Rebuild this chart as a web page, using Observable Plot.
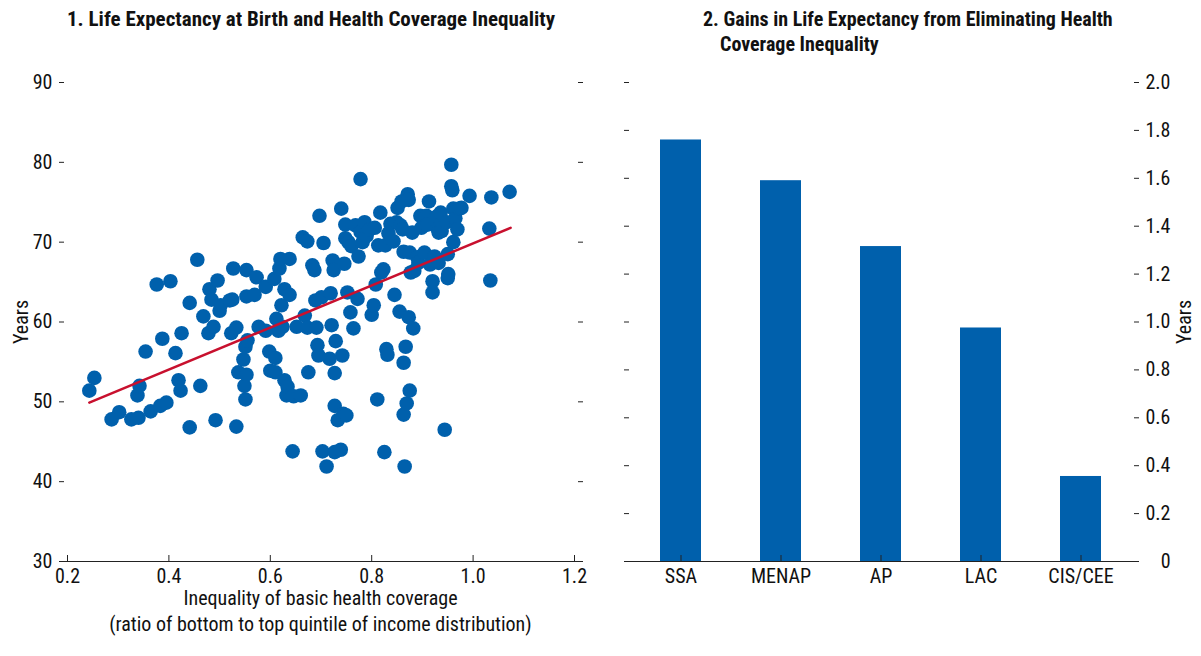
<!DOCTYPE html>
<html>
<head>
<meta charset="utf-8">
<script src="https://cdn.jsdelivr.net/npm/d3@7"></script>
<script src="https://cdn.jsdelivr.net/npm/@observablehq/plot@0.6"></script>
<style>
  html, body { margin: 0; padding: 0; background: #fff; }
  #wrap { position: relative; width: 1201px; height: 656px; overflow: hidden;
    font-family: "Liberation Sans Narrow", "Roboto Condensed", "DejaVu Sans Condensed", sans-serif; color: #111; }
  .title { position: absolute; font-weight: bold; line-height: 25px; white-space: nowrap; }
  .xlabel { position: absolute; font-size: 20px; line-height: 26px; text-align: center; white-space: nowrap; }
  .panel { position: absolute; top: 60px; }
</style>
</head>
<body>
<div id="wrap">
  <div class="title" style="left:67px; top:7px; font-size:21px;">1. Life Expectancy at Birth and Health Coverage Inequality</div>
  <div class="title" style="left:703px; top:7px; font-size:20px;">2. Gains in Life Expectancy from Eliminating Health<br><span style="padding-left:17px">Coverage Inequality</span></div>
  <div class="panel" id="left" style="left:0px;"></div>
  <div class="panel" id="right" style="left:600px;"></div>
  <div class="xlabel" style="left:67px; width:507px; top:585px;">Inequality of basic health coverage<br>(ratio of bottom to top quintile of income distribution)</div>
</div>
<script>
const FONT = '"Liberation Sans Narrow", "Roboto Condensed", "DejaVu Sans Condensed", sans-serif';

// Panel 1: scatter data (health coverage ratio, life expectancy in years)
const coverageRatio = [
  0.243,0.253,0.287,0.302,0.326,0.340,0.338,0.342,0.354,0.364,0.376,0.383,0.387,0.395,0.403,0.413,0.419,0.425,0.423,0.441,
  0.441,0.456,0.462,0.468,0.478,0.480,0.484,0.488,0.496,0.492,0.500,0.502,0.520,0.525,0.527,0.523,0.533,0.533,0.537,0.547,
  0.549,0.551,0.553,0.553,0.551,0.553,0.555,0.569,0.573,0.577,0.591,0.591,0.598,0.600,0.608,0.610,0.612,0.610,0.618,0.616,
  0.620,0.622,0.624,0.628,0.628,0.632,0.634,0.638,0.638,0.644,0.646,0.652,0.660,0.664,0.668,0.673,0.673,0.675,0.683,0.687,
  0.689,0.691,0.693,0.695,0.697,0.701,0.703,0.705,0.711,0.717,0.719,0.721,0.723,0.725,0.727,0.727,0.727,0.729,0.733,0.739,
  0.740,0.742,0.744,0.746,0.748,0.748,0.750,0.752,0.754,0.758,0.760,0.764,0.768,0.772,0.774,0.778,0.778,0.782,0.786,0.790,
  0.796,0.800,0.804,0.806,0.808,0.811,0.813,0.817,0.819,0.823,0.825,0.827,0.829,0.831,0.833,0.837,0.843,0.845,0.849,0.851,
  0.855,0.857,0.859,0.861,0.863,0.863,0.863,0.865,0.867,0.869,0.871,0.873,0.875,0.873,0.875,0.877,0.882,0.880,0.884,0.890,
  0.892,0.896,0.898,0.904,0.908,0.910,0.913,0.915,0.920,0.920,0.924,0.928,0.930,0.932,0.932,0.936,0.938,0.944,0.948,0.950,
  0.950,0.951,0.957,0.957,0.959,0.961,0.961,0.965,0.969,0.973,0.977,0.993,1.032,1.034,1.036,1.072
];
const lifeExpectancy = [
  51.4,53.0,47.8,48.7,47.8,48.0,50.8,52.0,56.3,48.8,64.7,49.5,57.9,49.9,65.1,56.1,52.7,58.6,51.4,62.4,
  46.8,67.8,52.0,60.7,58.6,64.1,62.8,59.4,65.2,47.7,61.4,62.1,62.7,62.8,66.7,58.6,46.9,59.3,53.7,55.3,
  52.0,50.3,66.5,63.2,56.9,53.4,57.7,63.4,65.6,59.4,64.4,58.9,56.3,53.9,65.4,55.5,60.4,53.7,66.7,58.9,
  67.9,62.1,59.4,64.1,52.7,50.8,51.9,67.9,63.4,43.8,50.7,59.4,50.8,70.6,60.8,70.1,59.3,53.7,67.1,66.5,
  62.7,59.3,57.1,55.8,73.3,63.1,43.8,69.9,41.9,55.4,63.6,59.6,67.7,66.5,43.7,53.6,49.5,57.6,47.7,44.0,
  74.2,55.8,48.5,67.3,70.5,72.2,48.3,63.7,70.0,61.2,69.5,59.2,72.1,62.9,68.2,77.9,71.3,70.0,72.5,70.8,
  71.6,60.9,62.1,71.8,64.7,50.3,69.6,73.7,66.2,66.6,43.7,69.6,56.6,55.9,71.1,72.3,70.1,63.4,72.5,74.3,
  61.3,72.1,75.1,71.6,68.8,54.9,48.4,41.9,56.9,49.8,76.0,75.3,68.7,60.6,51.4,66.2,59.2,71.2,66.4,68.1,
  67.4,73.3,71.8,68.7,73.3,72.2,75.1,67.2,65.1,63.7,68.2,73.2,71.7,71.2,67.4,73.7,71.4,46.5,72.5,68.5,
  65.5,66.0,79.7,77.0,76.5,70.0,74.2,73.0,71.6,74.2,74.3,75.8,71.7,65.2,75.6,76.3
];
// Fitted line endpoints
const fitX = [0.243, 1.074];
const fitY = [49.9, 71.8];
const xTicks = [0.2, 0.4, 0.6, 0.8, 1.0, 1.2];
const yTicks = [30, 40, 50, 60, 70, 80, 90];

// Panel 2: bar data
const regions = ["SSA", "MENAP", "AP", "LAC", "CIS/CEE"];
const gains = [1.76, 1.59, 1.315, 0.975, 0.355];
const gainTicks = [0, 0.2, 0.4, 0.6, 0.8, 1.0, 1.2, 1.4, 1.6, 1.8, 2.0];

const BLUE = "#0060AC";
const RED = "#C8102E";

const points = coverageRatio.map((x, i) => ({x, y: lifeExpectancy[i]}));
const fit = fitX.map((x, i) => ({x, y: fitY[i]}));

const left = Plot.plot({
  width: 600, height: 596,
  marginTop: 22, marginBottom: 95, marginLeft: 67, marginRight: 26,
  style: {fontFamily: FONT, fontSize: "20px", color: "#111", background: "transparent"},
  x: {domain: [0.2, 1.2]},
  y: {domain: [30, 90]},
  marks: [
    Plot.dot(points, {x: "x", y: "y", r: 7.3, fill: BLUE}),
    Plot.line(fit, {x: "x", y: "y", stroke: RED, strokeWidth: 2.5}),
    Plot.ruleY([30], {stroke: "#222", strokeWidth: 1.2, insetLeft: -4, insetRight: -8}),
    Plot.axisX({ticks: xTicks, tickSize: -6, tickPadding: 13, tickFormat: d3.format(".1f"), label: null, stroke: "#222"}),
    Plot.axisY({ticks: yTicks, tickSize: 5, tickPadding: 7, dx: -3, label: "Years", labelAnchor: "center", labelOffset: 54, labelArrow: false, stroke: "#222"}),
    Plot.axisY({anchor: "right", ticks: yTicks, tickSize: 5, dx: 3, tickFormat: () => "", label: null, stroke: "#222"})
  ]
});
document.getElementById("left").appendChild(left);

const right = Plot.plot({
  width: 601, height: 596,
  marginTop: 22, marginBottom: 95, marginLeft: 30, marginRight: 71,
  style: {fontFamily: FONT, fontSize: "20px", color: "#111", background: "transparent"},
  x: {domain: regions, paddingInner: 0.59, paddingOuter: 0.295},
  y: {domain: [0, 2]},
  marks: [
    Plot.barY(regions.map((r, i) => ({r, v: gains[i]})), {x: "r", y: "v", fill: BLUE}),
    Plot.ruleY([0], {stroke: "#222", strokeWidth: 1.2, insetLeft: -4, insetRight: -8}),
    Plot.axisX({tickSize: -6, tickPadding: 13, label: null, stroke: "#222"}),
    Plot.axisY({anchor: "left", ticks: gainTicks, tickSize: 5, dx: -1, tickFormat: () => "", label: null, stroke: "#222"}),
    Plot.axisY({anchor: "right", ticks: gainTicks, tickSize: 5, dx: 3, tickPadding: 32, textAnchor: "end",
      tickFormat: d => d === 0 ? "0" : d.toFixed(1),
      label: "Years", labelAnchor: "center", labelOffset: 60, labelArrow: false, stroke: "#222"})
  ]
});
document.getElementById("right").appendChild(right);
</script>
</body>
</html>
